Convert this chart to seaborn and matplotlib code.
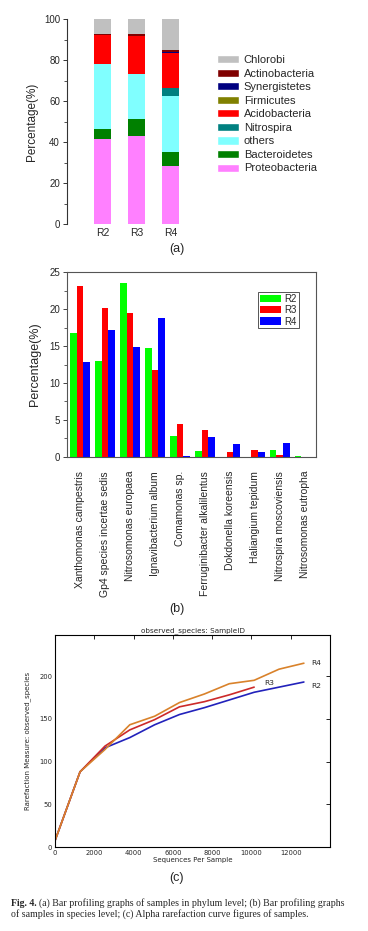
import pandas as pd
import matplotlib
matplotlib.use('Agg')
import matplotlib.pyplot as plt
from matplotlib.patches import Patch
from matplotlib.ticker import MultipleLocator
import seaborn as sns

# ---- (a) phylum level, stacked percentages ----
samples = ['R2', 'R3', 'R4']
phyla = ['Proteobacteria', 'Bacteroidetes', 'others', 'Nitrospira', 'Acidobacteria',
         'Firmicutes', 'Synergistetes', 'Actinobacteria', 'Chlorobi']
proteobacteria = [41.3, 43.1, 28.3]
bacteroidetes = [5.2, 8.0, 7.0]
others = [31.5, 21.9, 27.3]
nitrospira = [0.0, 0.0, 3.6]
acidobacteria = [14.2, 18.7, 17.1]
firmicutes = [0.1, 0.1, 0.3]
synergistetes = [0.0, 0.1, 0.2]
actinobacteria = [0.3, 1.0, 0.9]
chlorobi = [7.4, 7.1, 15.3]
phylum_colors = ['#ff80ff', '#008000', '#80ffff', '#008080', '#ff0000',
                 '#808000', '#000080', '#800000', '#c0c0c0']

# ---- (b) species level ----
species = ['Xanthomonas campestris', 'Gp4 species incertae sedis', 'Nitrosomonas europaea',
           'Ignavibacterium album', 'Comamonas sp.', 'Ferruginibacter alkalilentus',
           'Dokdonella koreensis', 'Haliangium tepidum', 'Nitrospira moscoviensis',
           'Nitrosomonas eutropha']
sp_r2 = [16.8, 13.0, 23.5, 14.7, 2.8, 0.8, 0.05, 0.05, 0.95, 0.13]
sp_r3 = [23.1, 20.2, 19.5, 11.7, 4.5, 3.6, 0.7, 1.0, 0.3, 0.05]
sp_r4 = [12.9, 17.1, 14.8, 18.8, 0.2, 2.7, 1.8, 0.7, 1.9, 0.0]

# ---- (c) rarefaction ----
seqs = [10, 1276, 2542, 3808, 5074, 6340, 7606, 8872, 10138, 11404, 12670]
rare_r2 = [8, 88, 116, 128, 143, 155, 163, 172, 181, 187, 193]
rare_r3 = [8, 88, 118, 137, 149, 164, 170, 178, 187]
rare_r4 = [8, 88, 114, 143, 153, 169, 179, 191, 195, 208, 215]

W, H = 368, 931
sns.set_theme(style='white')
plt.rcParams['font.family'] = ['Liberation Sans', 'DejaVu Sans']
fig = plt.figure(figsize=(W / 100, H / 100), dpi=100)


def box(l, t, r, b):
    return [l / W, 1 - b / H, (r - l) / W, (b - t) / H]


# ===== panel (a) =====
ax1 = fig.add_axes(box(67, 19, 200, 224))
layers = [proteobacteria, bacteroidetes, others, nitrospira, acidobacteria,
          firmicutes, synergistetes, actinobacteria, chlorobi]
cum = []
run = [0, 0, 0]
for lay in layers:
    run = [a + b for a, b in zip(run, lay)]
    cum.append(run)
# draw tallest cumulative first, lower layers on top of it
for i in range(len(layers) - 1, -1, -1):
    sns.barplot(x=samples, y=cum[i], color=phylum_colors[i], saturation=1,
                width=0.5, linewidth=0, ax=ax1)
ax1.set_xlim(-1.04, 2.85)
ax1.set_ylim(0, 100)
ax1.set_ylabel('Percentage(%)', fontsize=8.5, labelpad=4)
for s in ['top', 'right', 'bottom']:
    ax1.spines[s].set_visible(False)
ax1.spines['left'].set_color('#333333')
ax1.spines['left'].set_linewidth(0.8)
ax1.yaxis.set_major_locator(MultipleLocator(20))
ax1.yaxis.set_minor_locator(MultipleLocator(10))
ax1.tick_params(axis='y', which='major', left=True, length=3, width=0.7, labelsize=7, pad=2, color='#333333')
ax1.tick_params(axis='y', which='minor', left=True, length=2, width=0.6, color='#333333')
ax1.tick_params(axis='x', bottom=False, length=0, labelsize=7.5, pad=3)

handles = [Patch(facecolor=phylum_colors[i], label=phyla[i]) for i in range(len(phyla) - 1, -1, -1)]
fig.legend(handles=handles, loc='upper left', bbox_to_anchor=(217 / W, 1 - 55 / H),
           frameon=False, fontsize=8, handlelength=2.0, handleheight=0.75,
           handletextpad=0.4, labelspacing=0.32, borderpad=0, borderaxespad=0)
fig.text(177 / W, 1 - 249 / H, '(a)', ha='center', va='center', fontsize=9)

# ===== panel (b) =====
ax2 = fig.add_axes(box(67, 272, 316, 457))
df_sp = pd.DataFrame({
    'species': species * 3,
    'sample': ['R2'] * 10 + ['R3'] * 10 + ['R4'] * 10,
    'value': sp_r2 + sp_r3 + sp_r4,
})
sns.barplot(data=df_sp, x='species', y='value', hue='sample',
            palette=['#00ff00', '#ff0000', '#0000ff'], saturation=1,
            width=0.8, linewidth=0, ax=ax2)
ax2.set_xlim(-0.52, 9.45)
ax2.set_ylim(0, 25)
ax2.set_xlabel('')
ax2.set_ylabel('Percentage(%)', fontsize=9, labelpad=6)
ax2.yaxis.set_major_locator(MultipleLocator(5))
ax2.yaxis.set_minor_locator(MultipleLocator(2.5))
ax2.tick_params(axis='y', which='major', left=True, length=3, width=0.7, labelsize=7, pad=2, color='#444444')
ax2.tick_params(axis='y', which='minor', left=True, length=2, width=0.6, color='#444444')
ax2.tick_params(axis='x', bottom=False, labelsize=7.5, pad=4)
plt.setp(ax2.get_xticklabels(), rotation=90)
for s in ax2.spines.values():
    s.set_color('#555555')
    s.set_linewidth(0.8)
leg = ax2.legend(loc='upper right', bbox_to_anchor=(0.95, 0.92), fontsize=7,
                 handlelength=2.2, handleheight=0.8, handletextpad=0.3,
                 labelspacing=0.15, borderpad=0.2, fancybox=False, framealpha=1)
leg.get_frame().set_edgecolor('#555555')
leg.get_frame().set_linewidth(0.7)
fig.text(177 / W, 1 - 609 / H, '(b)', ha='center', va='center', fontsize=9)

# ===== panel (c) =====
ax3 = fig.add_axes(box(55, 635, 330, 847))
df_rare = pd.DataFrame({
    'seqs': seqs + seqs[:len(rare_r3)] + seqs,
    'obs': rare_r2 + rare_r3 + rare_r4,
    'sample': ['R2'] * len(rare_r2) + ['R3'] * len(rare_r3) + ['R4'] * len(rare_r4),
})
sns.lineplot(data=df_rare, x='seqs', y='obs', hue='sample',
             palette={'R2': '#2222bb', 'R3': '#cc2a2a', 'R4': '#d9822b'},
             linewidth=1.2, legend=False, ax=ax3)
ax3.set_xlim(0, 14000)
ax3.set_ylim(0, 248)
ax3.set_xticks(range(0, 14000, 2000))
ax3.set_xticks([14000], minor=True)
ax3.set_yticks([0, 50, 100, 150, 200])
ax3.tick_params(which='both', direction='in', top=True, right=True, length=3,
                width=0.6, labelsize=4.9, pad=2, color='black')
for lab in ax3.get_xticklabels() + ax3.get_yticklabels():
    lab.set_family('DejaVu Sans')
for s in ax3.spines.values():
    s.set_color('black')
    s.set_linewidth(0.8)
ax3.set_xlabel('Sequences Per Sample', fontsize=5, family='DejaVu Sans', labelpad=1)
ax3.set_ylabel('Rarefaction Measure: observed_species', fontsize=5, family='DejaVu Sans', labelpad=6)
ax3.set_title('observed_species: SampleID', fontsize=5.2, family='DejaVu Sans', pad=2)
last = {'R2': rare_r2[-1], 'R3': rare_r3[-1], 'R4': rare_r4[-1]}
ax3.text(seqs[-1] + 350, last['R4'], 'R4', fontsize=5.4, family='DejaVu Sans', va='center')
ax3.text(seqs[len(rare_r3) - 1] + 500, last['R3'] + 5, 'R3', fontsize=5.4, family='DejaVu Sans', va='center')
ax3.text(seqs[-1] + 350, last['R2'] - 5, 'R2', fontsize=5.4, family='DejaVu Sans', va='center')
fig.text(177 / W, 1 - 878 / H, '(c)', ha='center', va='center', fontsize=9)

# ===== caption =====
cap_font = ['Liberation Serif', 'DejaVu Serif']
fig.text(11 / W, 1 - 903 / H, 'Fig. 4.', fontsize=7.1, family=cap_font, weight='bold', va='center')
fig.text(39 / W, 1 - 903 / H,
         '(a) Bar profiling graphs of samples in phylum level; (b) Bar profiling graphs',
         fontsize=7.1, family=cap_font, va='center')
fig.text(11 / W, 1 - 914 / H,
         'of samples in species level; (c) Alpha rarefaction curve figures of samples.',
         fontsize=7.1, family=cap_font, va='center')

fig.savefig('out.png', dpi=100)
